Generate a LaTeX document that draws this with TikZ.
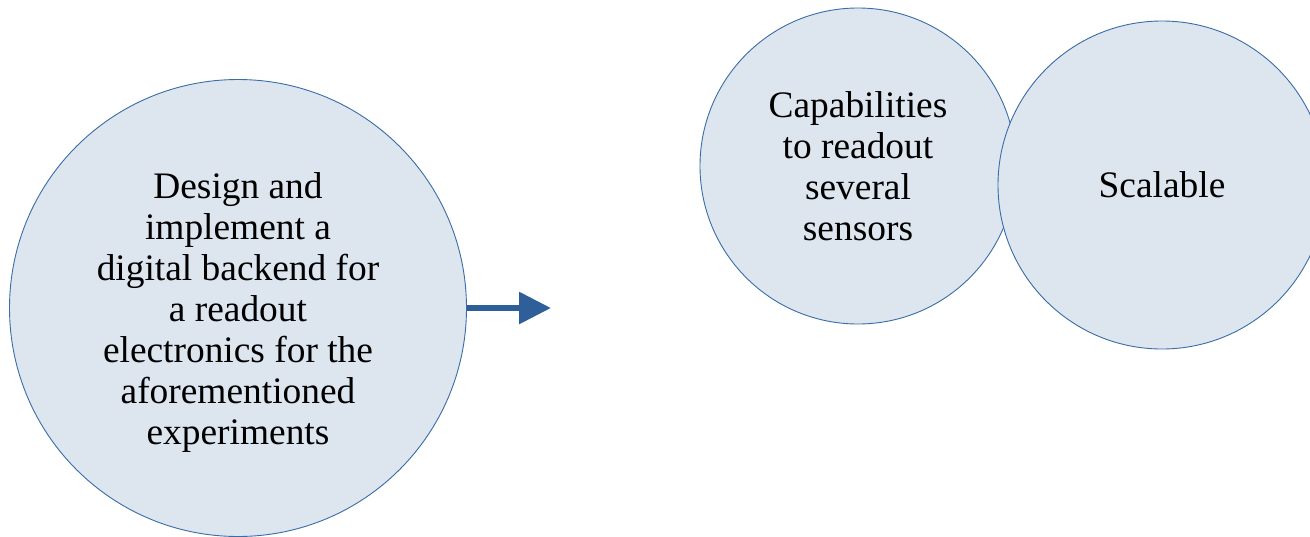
\documentclass[tikz,border=0pt]{standalone}
\usepackage{fontspec}
\setmainfont{Liberation Serif}
\usetikzlibrary{arrows.meta}
\definecolor{bubblefill}{HTML}{DDE6EF}
\definecolor{bubbleline}{HTML}{3A6CA8}
\definecolor{arrowblue}{HTML}{2E5F99}
\tikzset{
  bubble/.style={circle, draw=bubbleline, fill=bubblefill, line width=0.9pt,
    inner sep=0pt, align=center, font=\fontsize{37.4}{41}\selectfont},
  bubbletext/.style={inner sep=0pt, align=center, font=\fontsize{37.4}{41}\selectfont},
  flow/.style={draw=arrowblue, line width=6pt,
    -{Triangle[length=32pt,width=31pt]}}
}
\begin{document}
\begin{tikzpicture}[x=1pt,y=-1pt]
\useasboundingbox (0,0) rectangle (1310,536);
\begin{scope}
\clip (0,0) rectangle (1310,536);
\node[bubble, minimum size=457pt] (goal) at (238,308) {};
\node[bubbletext] (goaltext) at (238,312)
  {Design and\\implement a\\digital backend for\\a readout\\electronics for the\\aforementioned\\experiments};
\node[bubble, minimum size=316pt] (sensors) at (858,166)
  {Capabilities\\to readout\\several\\sensors};
\node[bubble, minimum size=328pt] (scale) at (1162,185) {Scalable};
\end{scope}
\coordinate (tip) at (551,308);
\draw[flow] (goal.east) -- (tip);
\end{tikzpicture}
\end{document}
